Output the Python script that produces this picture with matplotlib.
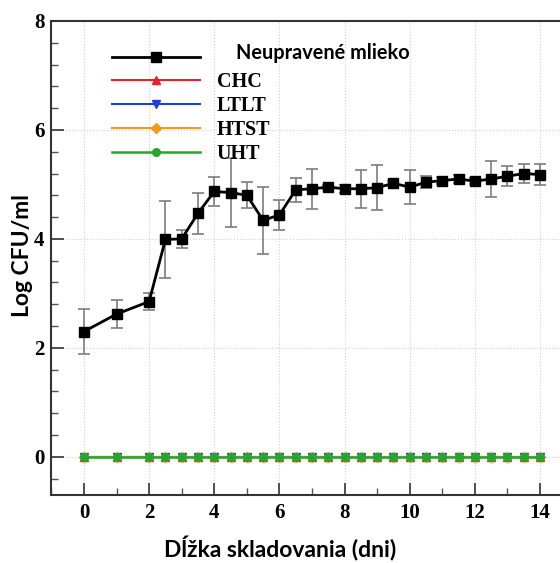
import matplotlib
matplotlib.use('Agg')
import matplotlib.pyplot as plt
from matplotlib.ticker import MultipleLocator, AutoMinorLocator

# dni skladovania
days = [0, 1, 2, 2.5, 3, 3.5, 4, 4.5, 5, 5.5, 6, 6.5, 7, 7.5, 8, 8.5, 9,
        9.5, 10, 10.5, 11, 11.5, 12, 12.5, 13, 13.5, 14]

# neupravené mlieko (log CFU/ml) a smerodajné odchýlky
raw_milk = [2.30, 2.62, 2.85, 3.99, 4.00, 4.47, 4.87, 4.85, 4.80, 4.34, 4.44,
            4.90, 4.92, 4.95, 4.92, 4.92, 4.94, 5.02, 4.95, 5.04, 5.07, 5.10,
            5.06, 5.10, 5.15, 5.20, 5.18]
raw_err = [0.42, 0.25, 0.15, 0.70, 0.17, 0.38, 0.26, 0.63, 0.24, 0.62, 0.28,
           0.22, 0.37, 0.03, 0.07, 0.35, 0.41, 0.05, 0.31, 0.11, 0.06, 0.08,
           0.05, 0.33, 0.18, 0.18, 0.19]

# ošetrené mlieko - nedetegované
chc = [0] * len(days)
ltlt = [0] * len(days)
htst = [0] * len(days)
uht = [0] * len(days)

# tick labels in bold Times-like font
plt.rcParams['font.family'] = ['Liberation Serif', 'DejaVu Serif']
plt.rcParams['font.weight'] = 'bold'
plt.rcParams['font.size'] = 15

label_font = {'family': 'Lato', 'weight': 'bold', 'size': 16.5}

fig = plt.figure(figsize=(5.6, 5.63), dpi=100)
ax = fig.add_axes([0.0918, 0.1208, 0.9307, 0.842])

ax.errorbar(days, raw_milk, yerr=raw_err, fmt='none', ecolor='#7d7d7d',
            elinewidth=1.2, capsize=4, capthick=1.2, zorder=2)
ax.plot(days, raw_milk, color='black', lw=2, marker='s', ms=6.5,
        label='Neupravené mlieko', zorder=3)
ax.plot(days, chc, color='#e8202a', lw=1.5, marker='^', ms=6, label='CHC', zorder=3)
ax.plot(days, ltlt, color='#1f3fd6', lw=1.5, marker='v', ms=6, label='LTLT', zorder=3)
ax.plot(days, htst, color='#f39a1e', lw=1.5, marker='D', ms=5, label='HTST', zorder=3)
ax.plot(days, uht, color='#22a82a', lw=1.8, marker='o', ms=5.5, label='UHT', zorder=3)

ax.set_xlim(-1, 15)
ax.set_ylim(-0.7, 8)
ax.xaxis.set_major_locator(MultipleLocator(2))
ax.xaxis.set_minor_locator(MultipleLocator(1))
ax.yaxis.set_major_locator(MultipleLocator(2))
ax.yaxis.set_minor_locator(AutoMinorLocator(5))
ax.tick_params(which='major', direction='in', length=9, width=1.2, color='#333333',
               labelsize=15)
ax.tick_params(which='minor', direction='in', length=5, width=1, color='#555555')
ax.tick_params(axis='y', which='major', pad=5)
ax.tick_params(axis='x', which='major', pad=6)

ax.grid(True, which='major', linestyle=':', color='#cfcfcf', lw=0.8)
for s in ax.spines.values():
    s.set_linewidth(1.5)
    s.set_color('#333333')

ax.set_xlabel('Dĺžka skladovania (dni)', **label_font)
ax.set_ylabel('Log CFU/ml', **label_font)
ax.xaxis.set_label_coords(0.4386, -0.088)
ax.yaxis.set_label_coords(-0.035, 0.506)

leg = ax.legend(loc='upper left', bbox_to_anchor=(0.116, 0.9435), frameon=False,
                prop={'family': 'Liberation Serif', 'weight': 'bold', 'size': 14.5},
                handlelength=4.4, handletextpad=0.8, labelspacing=0.2,
                borderpad=0, borderaxespad=0)
# prvý popis je iným písmom, posunutý doprava a mierne nahor
first = leg.get_texts()[0]
first.set_fontfamily('Lato')
first.set_fontsize(14.3)
first.set_position((19, 5))

fig.savefig('out.png', dpi=100)
